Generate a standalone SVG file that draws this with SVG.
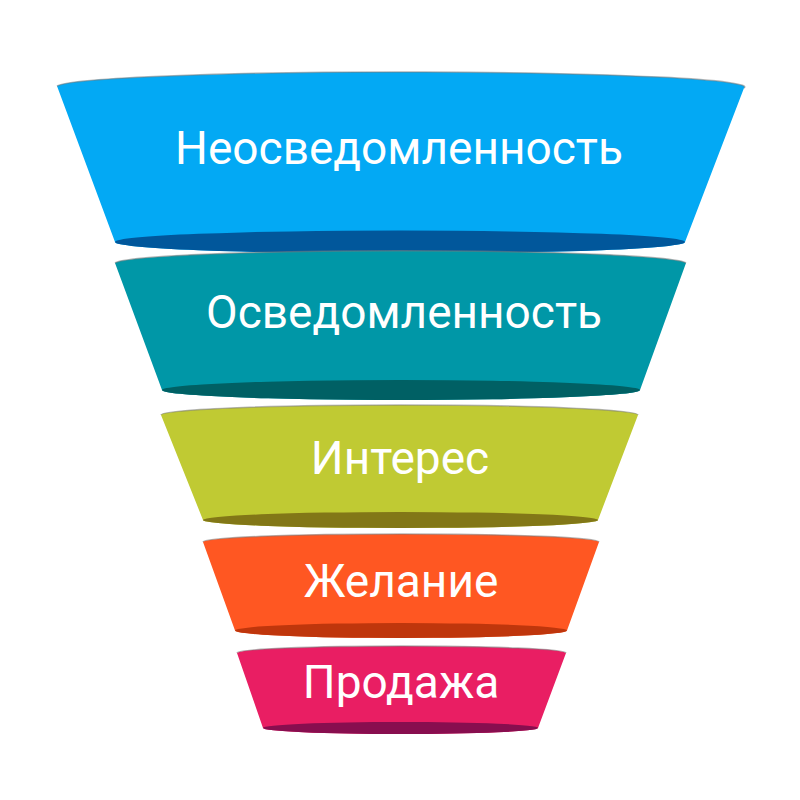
<svg xmlns="http://www.w3.org/2000/svg" width="800" height="800" viewBox="0 0 800 800">
<style>
.lbl{font-family:Roboto,"Liberation Sans",sans-serif;font-size:46px;fill:#fff;text-anchor:middle}
.rim{fill:none;stroke:#7a7a7a;stroke-opacity:0.55;stroke-width:1.5}
</style>
<rect width="800" height="800" fill="#fff"/>
<g id="stage1">
<path d="M57,86 A344,15 0 0 1 744,88 L685,242 A285,11.5 0 0 1 115,242 Z" fill="#03A9F4"/>
<path class="rim" d="M57,86 A344,15 0 0 1 744,88"/>
<ellipse cx="400" cy="242" rx="285" ry="11.5" fill="#01579B"/>
<text class="lbl" x="399" y="164">Неосведомленность</text>
</g>
<g id="stage2">
<path d="M115,263 A286,13 0 0 1 686,263 L640,390 A239,10 0 0 1 162,390 Z" fill="#0097A7"/>
<path class="rim" d="M115,263 A286,13 0 0 1 686,263"/>
<ellipse cx="401" cy="390" rx="239" ry="10" fill="#006064"/>
<text class="lbl" x="404" y="328">Осведомленность</text>
</g>
<g id="stage3">
<path d="M161,415 A238.5,10 0 0 1 638,415 L598,520 A197.5,8 0 0 1 203,520 Z" fill="#C0CA33"/>
<path class="rim" d="M161,415 A238.5,10 0 0 1 638,415"/>
<ellipse cx="400.5" cy="520" rx="197.5" ry="8" fill="#827717"/>
<text class="lbl" x="400" y="474">Интерес</text>
</g>
<g id="stage4">
<path d="M203,542 A198,8 0 0 1 599,542 L567,630.5 A166,7.5 0 0 1 235,630.5 Z" fill="#FF5722"/>
<path class="rim" d="M203,542 A198,8 0 0 1 599,542"/>
<ellipse cx="401" cy="630.5" rx="166" ry="7.5" fill="#BF360C"/>
<text class="lbl" x="401" y="597">Желание</text>
</g>
<g id="stage5">
<path d="M237,653 A164.5,7 0 0 1 566,653 L538,728 A137.5,6 0 0 1 263,728 Z" fill="#E91E63"/>
<path class="rim" d="M237,653 A164.5,7 0 0 1 566,653"/>
<ellipse cx="400.5" cy="728" rx="137.5" ry="6" fill="#880E4F"/>
<text class="lbl" x="401" y="698">Продажа</text>
</g>
<g id="connectors"/>
</svg>
